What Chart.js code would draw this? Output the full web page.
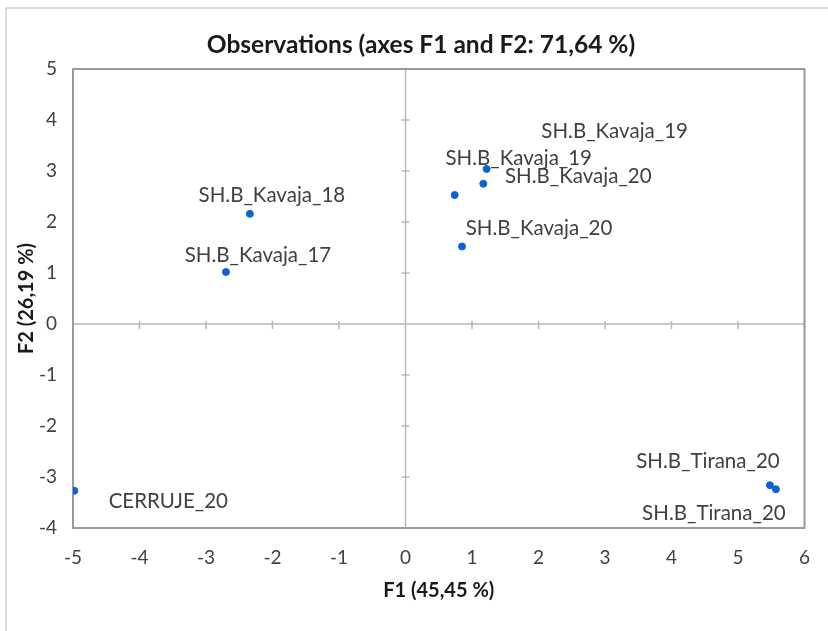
<!DOCTYPE html>
<html>
<head>
<meta charset="utf-8">
<script src="https://cdn.jsdelivr.net/npm/chart.js@4.4.0/dist/chart.umd.min.js"></script>
<style>
  html, body { margin: 0; padding: 0; background: #fff; }
  #wrap { width: 828px; height: 631px; position: relative; }
</style>
</head>
<body>
<div id="wrap"><canvas id="chart" width="828" height="631"></canvas></div>
<script>
/* ---- data ---- */
const obsNames = [
  'CERRUJE_20', 'SH.B_Kavaja_17', 'SH.B_Kavaja_18',
  'SH.B_Kavaja_19', 'SH.B_Kavaja_19', 'SH.B_Kavaja_20', 'SH.B_Kavaja_20',
  'SH.B_Tirana_20', 'SH.B_Tirana_20'
];
const f1Values = [-4.98, -2.70, -2.34, 1.22, 0.74, 1.17, 0.85, 5.48, 5.57];
const f2Values = [-3.27, 1.02, 2.16, 3.04, 2.53, 2.75, 1.52, -3.16, -3.24];

const xTicks = [-5, -4, -3, -2, -1, 0, 1, 2, 3, 4, 5, 6];
const yTicks = [-4, -3, -2, -1, 0, 1, 2, 3, 4, 5];

const chartTitle = 'Observations (axes F1 and F2: 71,64 %)';

// label placement (px offset of the label centre from its point)
const labelOffsets = [
  [94, 11], [32, -17], [22, -18],
  [128, -38], [64, -37], [95, -7], [77, -18],
  [-62, -24], [-62, 24]
];

const TEXT = '#404040';
const FONT = 'Lato, "Open Sans", sans-serif';

const points = f1Values.map((x, i) => ({ x, y: f2Values[i] }));

// frame, zero axes with small tick marks, outer border, title, point labels
const framePlugin = {
  id: 'frame',
  beforeDatasetsDraw(chart) {
    const { ctx, chartArea: a, scales: { x, y } } = chart;
    ctx.save();
    // outer border (only top / left edges fall inside the canvas)
    ctx.strokeStyle = '#cfcfcf';
    ctx.lineWidth = 1.5;
    ctx.strokeRect(6, 8, 840, 640);

    // title
    ctx.fillStyle = '#1a1a1a';
    ctx.font = 'bold 24.5px ' + FONT;
    ctx.textAlign = 'center';
    ctx.textBaseline = 'middle';
    ctx.fillText(chartTitle, 421, 45);

    // zero lines
    const x0 = x.getPixelForValue(0), y0 = y.getPixelForValue(0);
    ctx.strokeStyle = '#b8b8b8';
    ctx.lineWidth = 1.5;
    ctx.beginPath();
    ctx.moveTo(x0, a.top); ctx.lineTo(x0, a.bottom);
    ctx.moveTo(a.left, y0); ctx.lineTo(a.right, y0);
    yTicks.forEach(v => {
      const py = y.getPixelForValue(v);
      ctx.moveTo(x0 - 4, py); ctx.lineTo(x0 + 4, py);
    });
    xTicks.forEach(v => {
      const px = x.getPixelForValue(v);
      ctx.moveTo(px, y0 - 3); ctx.lineTo(px, y0 + 5);
    });
    ctx.stroke();

    // plot frame
    ctx.strokeStyle = '#9a9a9a';
    ctx.lineWidth = 2;
    ctx.strokeRect(a.left, a.top, a.right - a.left, a.bottom - a.top);
    ctx.restore();
  },
  afterDatasetsDraw(chart) {
    const { ctx } = chart;
    const meta = chart.getDatasetMeta(0);
    ctx.save();
    ctx.font = '20.5px ' + FONT;
    ctx.fillStyle = TEXT;
    ctx.textAlign = 'center';
    ctx.textBaseline = 'middle';
    meta.data.forEach((pt, i) => {
      const [dx, dy] = labelOffsets[i];
      ctx.fillText(obsNames[i], pt.x + dx, pt.y + dy);
    });
    ctx.restore();
  }
};

new Chart(document.getElementById('chart'), {
  type: 'scatter',
  data: {
    datasets: [{
      label: 'Observations',
      data: points,
      backgroundColor: '#0a63d6',
      borderColor: '#0a63d6',
      pointRadius: 3.5,
      pointHoverRadius: 3.5
    }]
  },
  options: {
    responsive: false,
    animation: false,
    layout: { padding: { top: 69, right: 22, bottom: 0, left: 0 } },
    plugins: {
      legend: { display: false },
      tooltip: { enabled: false },
      title: { display: false }
    },
    scales: {
      x: {
        type: 'linear',
        min: -5, max: 6,
        afterFit: s => { s.height = 103; },
        afterBuildTicks: s => { s.ticks = xTicks.map(v => ({ value: v })); },
        grid: { display: false, drawTicks: false },
        border: { display: false },
        ticks: { color: TEXT, padding: 18, font: { family: FONT, size: 19 } },
        title: {
          display: true, text: 'F1 (45,45 %)', color: '#1a1a1a',
          font: { family: FONT, size: 20, weight: 'bold' },
          padding: { top: 0, bottom: 28 }
        }
      },
      y: {
        type: 'linear',
        min: -4, max: 5,
        afterFit: s => { s.width = 73; },
        afterBuildTicks: s => { s.ticks = yTicks.map(v => ({ value: v })); },
        grid: { display: false, drawTicks: false },
        border: { display: false },
        ticks: { color: TEXT, padding: 16, font: { family: FONT, size: 19 } },
        title: {
          display: true, text: 'F2 (26,19 %)', color: '#1a1a1a',
          font: { family: FONT, size: 20, weight: 'bold' },
          padding: { top: 15, bottom: 0 }
        }
      }
    }
  },
  plugins: [framePlugin]
});
</script>
</body>
</html>
